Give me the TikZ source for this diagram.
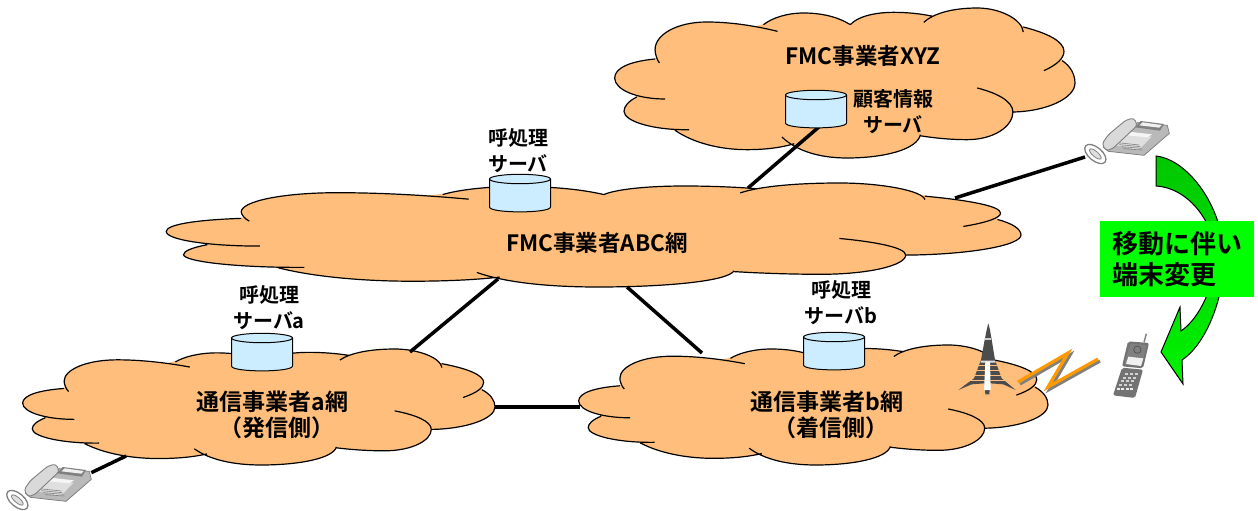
\documentclass[tikz,border=0pt]{standalone}
\usepackage{xcolor}
\usepackage{fontspec}
\setmainfont{Noto Sans CJK JP}[BoldFont={Noto Sans CJK JP Bold}]
\definecolor{cloudfill}{HTML}{FFBE7B}
\definecolor{dbfill}{HTML}{CCECFF}
\definecolor{boxgreen}{HTML}{00FF00}
\definecolor{zigorange}{HTML}{FF9900}
\newcommand{\lobes}{(165,178) .. controls (90,185) and (44,205) .. (44,235) .. controls (44,270) and (110,298) .. (195,298)
  (110,292) .. controls (85,305) and (72,320) .. (72,335) .. controls (72,365) and (160,392) .. (267,390)
  (225,392) .. controls (280,430) and (360,450) .. (440,450) .. controls (490,450) and (540,445) .. (582,432)
  (545,412) .. controls (590,455) and (660,475) .. (740,475) .. controls (850,475) and (950,450) .. (960,405)
  (958,408) .. controls (1000,415) and (1050,420) .. (1100,420) .. controls (1180,420) and (1237,380) .. (1237,337) .. controls (1237,305) and (1190,280) .. (1130,265)
  (1237,337) .. controls (1340,335) and (1423,295) .. (1423,250) .. controls (1423,225) and (1410,200) .. (1385,183)
  (1330,213) .. controls (1370,195) and (1390,175) .. (1390,155) .. controls (1390,125) and (1340,100) .. (1268,82)
  (1268,97) .. controls (1265,60) and (1200,25) .. (1130,25) .. controls (1060,25) and (1000,40) .. (970,68)
  (998,50) .. controls (960,42) and (920,38) .. (880,38) .. controls (820,38) and (770,52) .. (750,75)
  (750,75) .. controls (710,50) and (660,40) .. (610,40) .. controls (560,40) and (515,55) .. (490,75)
  (532,95) .. controls (450,75) and (380,67) .. (320,67) .. controls (230,67) and (165,105) .. (165,150) .. controls (165,160) and (170,180) .. (178,190)}
% x, y, width, height in pixels of the reference
\newcommand{\netcloud}[4]{\begin{scope}[shift={(#1,#2)},xscale=#3/1381,yscale=#4/450,shift={(-42,-25)}]
    \filldraw[cloudfill,line width=1.5pt,line join=round] (165,178) -- (110,292) -- (225,392) -- (582,432) -- (958,408) -- (1237,337) -- (1385,183) -- (1268,82) -- (998,50) -- (750,75) -- (490,75) -- cycle;
    \fill[cloudfill] \lobes;
    \draw[black,line width=1.2pt] \lobes;
  \end{scope}}
\tikzset{
  every node/.style={font=\bfseries,inner sep=0pt},
  lbl/.style={align=center,font=\bfseries\fontsize{#1}{26}\selectfont},
  netlbl/.style={align=left,font=\bfseries\fontsize{23}{26}\selectfont},
  link/.style={line width=3.5pt,black},
  pics/dbcyl/.style={code={
    \draw[black,line width=1pt,fill=dbfill] (-30.5,-14) -- (-30.5,14) .. controls (-30.5,20.5) and (30.5,20.5) .. (30.5,14) -- (30.5,-14);
    \draw[black,line width=1pt,fill=dbfill] (0,-14) ellipse (30.5 and 4.7);
  }},
  pics/deskphone/.style={code={
    \begin{scope}[scale=1/3]
      \draw[gray,line width=1.3pt,fill=white,rotate around={-40:(46,132)}] (46,132) ellipse (38 and 20);
      \draw[gray,line width=.8pt,fill=gray!25,rotate around={-40:(46,132)}] (46,132) ellipse (22 and 8);
      \draw[gray!50!black!70,line width=.7pt,fill=gray!55] (70,112) -- (172,38) -- (262,46) -- (268,70) -- (192,136) -- (85,124) -- cycle;
      \fill[gray!25] (100,104) -- (142,72) -- (215,80) -- (176,120) -- cycle;
      \fill[gray] (165,52) -- (182,33) -- (252,42) -- (240,62) -- cycle;
      \fill[gray!12] (178,46) -- (188,37) -- (245,45) -- (238,53) -- cycle;
      \fill[gray!8] (140,76) -- (155,66) -- (216,73) -- (202,82) -- cycle;
      \foreach \k in {0,1,2,3}{\draw[gray,line width=.6pt] (112+\k*6,98+\k*6) -- (178+\k*3,105+\k*5);}
      \draw[gray,line width=.9pt,fill=gray!30,rounded corners=3pt] (66,102) -- (85,74) -- (138,30) -- (162,24) -- (172,46) -- (98,116) -- (78,122) -- cycle;
      \coordinate (-jack) at (15,141);
      \coordinate (-side) at (268,50);
    \end{scope}}},
  pics/radiotower/.style={code={
    \begin{scope}[scale=1/3]
      \fill[gray!60!black] (115,25) -- (120,45) -- (126,80) -- (135,135) -- (155,190) -- (197,225) -- (160,208) -- (120,205) -- (118,238) -- (106,238) -- (104,205) -- (65,208) -- (25,225) -- (72,190) -- (93,135) -- (103,80) -- (110,45) -- cycle;
      \foreach \yy/\hw in {150/30,165/38,180/48,195/62}{\draw[cloudfill,line width=.6pt] (112-\hw,\yy) -- (112+\hw,\yy);}
      \fill[gray!25] (93,137) -- (135,137) -- (137,143) -- (92,143) -- cycle;
      \fill[white] (106,140) -- (120,140) -- (122,225) -- (102,225) -- cycle;
      \fill[gray!40] (105,70) rectangle (122,76);
    \end{scope}}},
  pics/flipphone/.style={code={
    \begin{scope}[scale=1/3]
      \draw[gray,line width=1.4pt] (117,52) -- (124,26);
      \fill[gray!90!black,rounded corners=2pt] (69,49) -- (132,54) -- (114,130) -- (51,124) -- cycle;
      \fill[gray,rounded corners=1pt] (76,56) -- (125,60) -- (110,122) -- (58,116) -- cycle;
      \fill[gray!12] (70,95) -- (115,100) -- (108,123) -- (63,117) -- cycle;
      \draw[gray!60!black,line width=.6pt] (97,74) circle (11);
      \fill[gray!90!black,rounded corners=2pt] (51,128) -- (114,134) -- (90,219) -- (24,211) -- cycle;
      \foreach \r in {0,...,3}{\foreach \c in {0,1,2}{
        \fill[gray!35] ({60+\c*15-\r*6},{144+\r*11}) rectangle ++(10,6);}}
      \foreach \c in {0,1,2,3}{\fill[gray!15] ({36+\c*13},190) rectangle ++(9,5);}
    \end{scope}}}
}
\begin{document}
\begin{tikzpicture}[x=1pt,y=-1pt]
  \useasboundingbox (0,0) rectangle (1258,511);
  \fill[white] (0,0) rectangle (1258,511);
  \netcloud{614}{8}{461}{150}
  \netcloud{165}{183}{856}{104}
  \netcloud{22}{349}{473}{116}
  \netcloud{578}{345}{470}{120}
  \coordinate (abcTop) at (748,188);
  \coordinate (xyzBase) at (820,126);
  \coordinate (abcRight) at (955,198);
  \coordinate (abcLeft) at (498,279);
  \coordinate (abcDown) at (627,287);
  \coordinate (aTop) at (410,352);
  \coordinate (aRight) at (495,407);
  \coordinate (aDown) at (126,456);
  \coordinate (bTop) at (702,353);
  \coordinate (bLeft) at (580,407);
  \pic (rphone) at (1080,110) {deskphone};
  \pic (lphone) at (2,456) {deskphone};
  \draw[link] (abcTop) -- (xyzBase);
  \draw[link] (abcRight) -- (rphone-jack);
  \draw[link] (abcLeft) -- (aTop);
  \draw[link] (abcDown) -- (bTop);
  \draw[link] (aRight) -- (bLeft);
  \draw[link] (aDown) -- (lphone-side);
  \pic (xyzdb) at (816,109) {dbcyl};
  \pic (abcdb) at (520,193) {dbcyl};
  \pic (adb) at (262,352) {dbcyl};
  \pic (bdb) at (834,351) {dbcyl};
  \node[lbl=22.5] (xyzname) at (863,56) {FMC事業者XYZ};
  \node[lbl=20] (xyzsrv) at (893,112) {顧客情報\\サーバ};
  \node[lbl=20] (abcsrv) at (518,151) {呼処理\\サーバ};
  \node[lbl=22.5] (abcname) at (597,243) {FMC事業者ABC網};
  \node[lbl=20] (asrv) at (269,308) {呼処理\\サーバa};
  \node[lbl=20] (bsrv) at (841,303) {呼処理\\サーバb};
  \node[netlbl] (aname) at (272.5,415) {通信事業者a網\\\hspace*{1em}（発信側）};
  \node[netlbl] (bname) at (827,415) {通信事業者b網\\\hspace*{1em}（着信側）};
  \pic (tower) at (950,315) {radiotower};
  \pic (mobile) at (1105,325) {flipphone};
  \draw[gray,line width=3.2pt,shift={(2,2)}] (1018,382) -- (1068,353) -- (1048,387) -- (1098,359);
  \draw[zigorange,line width=3.2pt] (1018,382) -- (1068,353) -- (1048,387) -- (1098,359);
  \draw[black,line width=1pt,top color=green!78!black,bottom color=green!95!black]
    (1156,156) .. controls (1190,160) and (1224,210) .. (1224,258) .. controls (1224,300) and (1205,345) .. (1182,360)
    -- (1183,384) -- (1161,352) -- (1180,307) -- (1181,331) .. controls (1200,318) and (1215,285) .. (1215,255) .. controls (1215,225) and (1190,188) .. (1156,186) -- cycle;
  \node[fill=boxgreen,minimum width=154pt,minimum height=76pt,align=left,font=\bfseries\fontsize{26}{31}\selectfont] (movebox) at (1177,259) {移動に伴い\\端末変更};
\end{tikzpicture}
\end{document}
